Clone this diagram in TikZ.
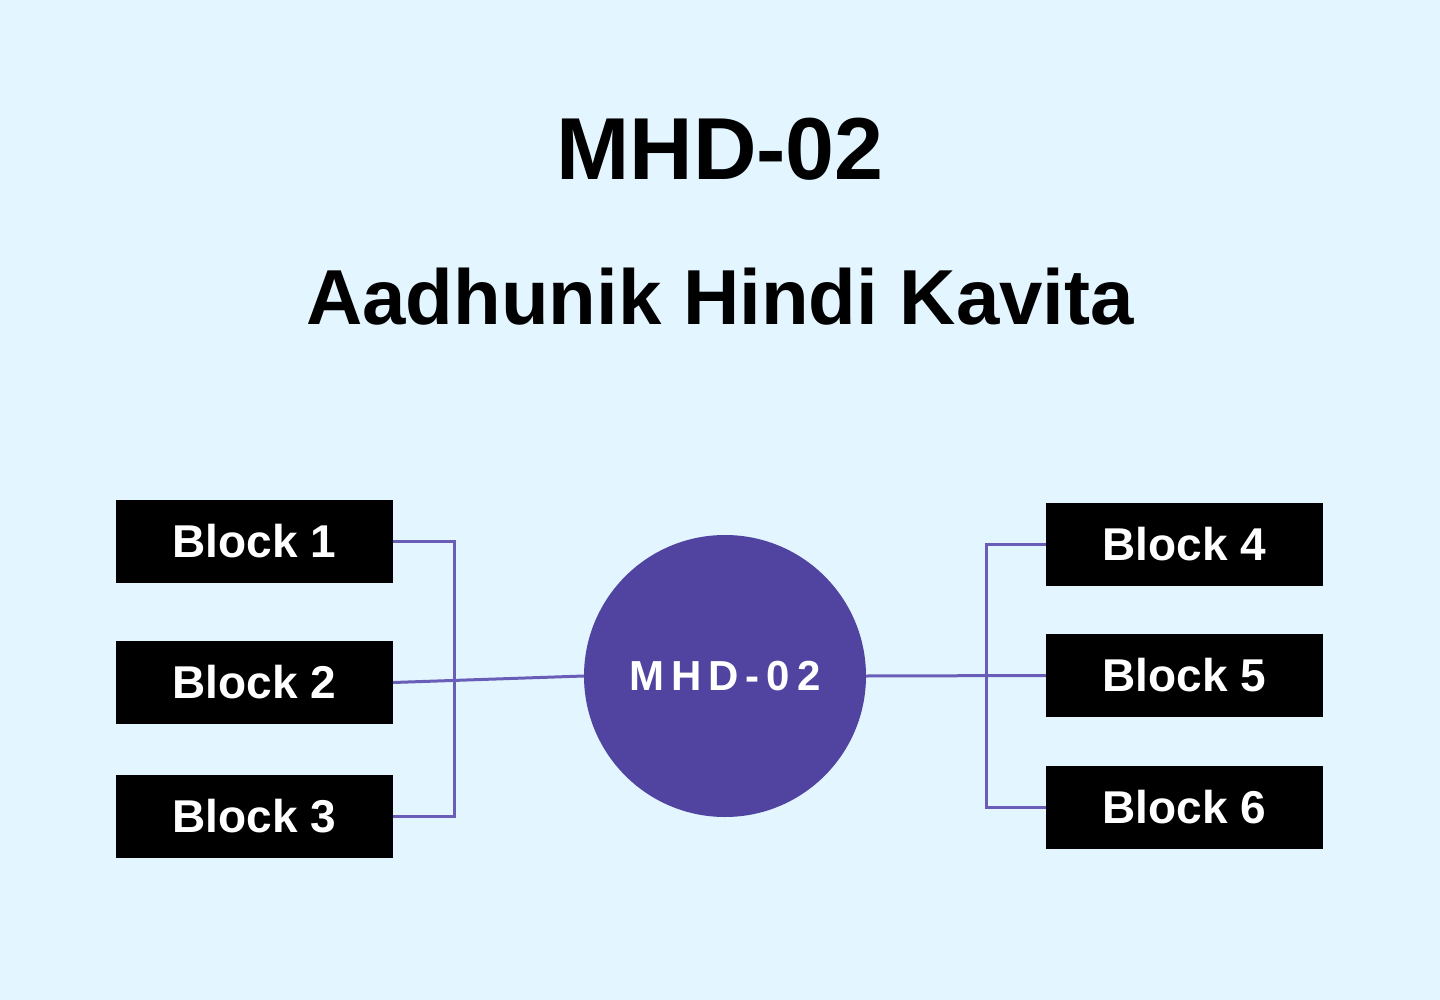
\documentclass[tikz,border=0pt]{standalone}
\usepackage{fontspec}
\setmainfont{Liberation Sans}
\definecolor{bg}{HTML}{E3F6FF}
\definecolor{circ}{HTML}{5044A0}
\definecolor{lin}{HTML}{6A5DB8}
\begin{document}
\begin{tikzpicture}[x=1pt,y=-1pt,
  blk/.style={fill=black,text=white,minimum width=277pt,minimum height=83pt,inner sep=0pt,font=\fontsize{46}{50}\selectfont\bfseries},
  conn/.style={draw=lin,line width=3pt}]
\fill[bg] (0,0) rectangle (1440,1000);
\useasboundingbox (0,0) rectangle (1440,1000);
\node (t1) at (720,149) {\fontsize{88}{90}\selectfont\bfseries MHD-02};
\node (t2) at (720,297) {\fontsize{78}{80}\selectfont\bfseries Aadhunik Hindi Kavita};
\node[circle,fill=circ,minimum size=282pt,inner sep=0pt,text=white,font=\fontsize{42}{44}\selectfont\bfseries] (c) at (725,676) {M\,H\,D\,-\,0\,2};
\node[blk] (b1) at (254.5,541.5) {Block 1};
\node[blk] (b2) at (254.5,682.5) {Block 2};
\node[blk] (b3) at (254.5,816) {Block 3};
\node[blk] (b4) at (1184.5,544.5) {Block 4};
\node[blk] (b5) at (1184.5,675.5) {Block 5};
\node[blk] (b6) at (1184.5,807.5) {Block 6};
\coordinate (lj) at (454,683);
\coordinate (rj) at (986,676);
\draw[conn] (b1.east) -| (lj);
\draw[conn] (b3.east) -| (lj);
\draw[conn] (b2.east) -- (c.west);
\draw[conn] (c.east) -- (b5.west);
\draw[conn] (b4.west) -| (rj);
\draw[conn] (b6.west) -| (rj);
\end{tikzpicture}
\end{document}
